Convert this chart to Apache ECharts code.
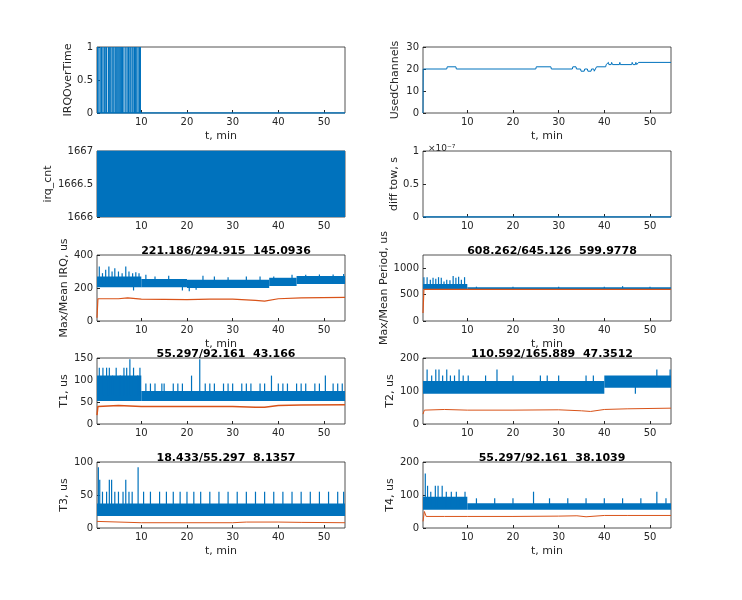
<!DOCTYPE html>
<html><head><meta charset="utf-8">
<script src="https://cdn.jsdelivr.net/npm/echarts@6/dist/echarts.min.js"></script>
<style>html,body{margin:0;padding:0;background:#fff}#c{width:742px;height:600px}</style>
</head><body><div id="c"></div>
<script>
// ---- data ----
const xTicks = [10, 20, 30, 40, 50];
const irqOverSpikes = [0.4,0.7,1.0,1.3,1.6,1.9,2.1,2.4,2.8,3.0,3.3,3.6,3.8,4.0,4.3,4.5,4.7,4.9,5.1,5.3,5.5,5.7,5.9,6.2,6.6,6.9,7.2,7.5,7.7,8.0,8.2,8.5,8.7,9.0,9.3,9.6,9.8];
const usedChannels = [[0.3,0],[0.35,20],[5.5,20],[5.6,21],[7.5,21],[7.6,20],[25,20],[25.1,21],[28.3,21],[28.4,20],[33,20],[33.1,21],[33.8,21],[33.9,20],[34.8,20],[34.9,19],[35.6,19],[35.7,20],[36.3,20],[36.4,19],[37.1,19],[37.2,20],[37.7,20],[37.8,19],[38.2,19],[38.3,21],[40.3,21],[40.4,22],[40.8,22],[40.9,23],[41.0,22],[41.5,22],[41.6,23],[41.8,22],[43.3,22],[43.4,23],[43.5,22],[46.0,22],[46.1,23],[46.3,22],[46.8,22],[46.9,23],[47.1,22],[47.4,22],[47.5,23],[54.6,23]];
const irqCntTop = 1667;
const diffTow = [[0.3,0],[54.6,0]];
// core bands: [t0, t1, lo, hi]
const irqCore = [[0.3,10,205,270],[10,20,205,255],[20,38,200,250],[38,44,212,262],[44,54.6,225,272]];
const irqSpikes = [[0.8,330],[1.5,290],[2.2,310],[2.9,330],[3.6,300],[4.2,320],[5.0,300],[5.8,290],[6.6,330],[7.3,300],[8.1,290],[8.8,295],[9.5,290],[11,280],[13,270],[16,275],[19,185],[20.5,180],[22,190],[23.5,275],[26,270],[29,265],[33,270],[36,270],[39,270],[43,280],[46,280],[49,282],[52,282],[54.3,285],[8.3,185]];
const irqMean = [[0.3,20],[0.5,135],[5,135],[7,140],[10,132],[20,130],[25,133],[30,133],[35,125],[37,120],[40,135],[45,140],[54.6,143]];
const perCore = [[0.3,10,600,700],[10,54.6,600,640]];
const perSpikes = [[0.5,830],[1.2,830],[1.9,780],[2.5,820],[3.1,800],[3.7,830],[4.3,820],[4.9,750],[5.5,780],[6.2,770],[6.9,850],[7.5,820],[8.1,840],[8.7,780],[9.4,830],[12,650],[20,650],[30,650],[40,650],[44,660],[50,650]];
const perMean = [[0.3,150],[0.5,600],[54.6,600]];
const t1Core = [[0.3,10,52,110],[10,54.6,52,75]];
const t1Spikes = [[0.8,128],[1.6,128],[2.4,128],[3.0,128],[3.7,110],[4.5,128],[5.4,110],[6.2,128],[6.8,128],[7.5,147],[8.3,128],[9.2,110],[9.7,128],[11,92],[12,92],[13,92],[14.5,92],[15,92],[17,92],[18,92],[19,92],[21,110],[22.8,147],[24,92],[25,92],[26,92],[28,92],[29,92],[30,92],[32,92],[33,92],[34,92],[36,92],[37,92],[38.5,110],[40,92],[41,92],[42,92],[44,92],[45,92],[46,92],[48,92],[49,92],[50.3,110],[52,92],[53,92],[54,92]];
const t1Mean = [[0.3,20],[0.5,40],[5,42],[10,40],[20,40],[30,40],[35,38],[37,38],[40,42],[45,43],[54.6,44]];
const t2Core = [[0.3,40,92,130],[40,54.6,110,147]];
const t2Spikes = [[1.2,165],[2.2,147],[3.1,165],[3.8,165],[4.6,147],[5.5,165],[6.3,147],[7.2,147],[8.2,165],[9.1,147],[10.2,147],[14,147],[16.5,165],[20,147],[26,147],[27.5,147],[30,147],[36,147],[37.6,147],[46.8,92],[51.5,165],[54.4,165]];
const t2Mean = [[0.3,30],[0.6,42],[5,44],[10,42],[20,42],[30,43],[35,40],[37,38],[40,44],[45,46],[54.6,48]];
const t3Core = [[0.3,54.6,18,37]];
const t3Spikes = [[0.6,92],[0.9,73],[1.5,55],[2.4,55],[3.0,73],[3.5,73],[4.2,55],[5.0,55],[6.0,55],[6.6,73],[7.3,55],[8.0,55],[9.3,92],[10.5,55],[12,55],[14,55],[15.5,55],[17,55],[18.5,55],[20,55],[21.5,55],[23,55],[25,55],[27,55],[29,55],[31,55],[33,55],[35,55],[37,55],[39,55],[41,55],[43,55],[45,55],[47,55],[49,55],[51,55],[53,55],[54.3,55]];
const t3Mean = [[0.3,10],[0.5,8],[10,8],[20,8],[30,8],[33,9],[40,9],[45,8.5],[54.6,8]];
const t4Core = [[0.3,10,55,95],[10,54.6,55,75]];
const t4Spikes = [[0.8,165],[1.3,128],[2.0,110],[3.0,128],[3.6,128],[4.5,128],[5.4,110],[6.5,110],[7.6,110],[8.5,90],[9.5,110],[12,90],[16,90],[20,90],[24.5,110],[28,90],[32,90],[36,90],[40,90],[44,90],[48,90],[51.5,110],[53.5,90]];
const t4Mean = [[0.3,20],[0.6,50],[1,35],[5,35],[10,35],[20,35],[30,36],[34,37],[36,34],[40,38],[45,38],[54.6,38]];

// ---- layout ----
const BLUE = '#0072BD', ORANGE = '#D95319', INK = '#262626';
const colL = 97, colR = 423, W = 248;
const rows = [47, 151, 255, 358, 462], H = 66;
const grids = [], xAxes = [], yAxes = [], series = [], titles = [];
function addPlot(idx, col, row, yMin, yMax, yInterval, yName, xName, opts) {
  opts = opts || {};
  const left = col ? colR : colL, top = rows[row];
  grids.push({left, top, width: W, height: H, show: true, borderColor: INK, borderWidth: 0.8, backgroundColor: '#fff'});
  xAxes.push({type: 'value', gridIndex: idx, min: 0.3, max: 54.6,
    name: xName || '', nameLocation: 'middle', nameGap: 18, nameTextStyle: {color: INK, fontSize: 11},
    axisLine: {show: false}, splitLine: {show: false},
    axisTick: {inside: true, length: 3, lineStyle: {color: INK}, customValues: xTicks},
    axisLabel: {color: INK, fontSize: 10, margin: 4, customValues: xTicks}});
  const y = {type: 'value', gridIndex: idx, min: yMin, max: yMax,
    name: yName, nameLocation: 'middle', nameGap: opts.nameGap || 24, nameTextStyle: {color: INK, fontSize: 11},
    axisLine: {show: false}, splitLine: {show: false},
    axisTick: {inside: true, length: 3, lineStyle: {color: INK}},
    axisLabel: {color: INK, fontSize: 10, margin: 4, formatter: opts.fmt || (v => String(v))}};
  if (opts.yTicks) { y.axisTick.customValues = opts.yTicks; y.axisLabel.customValues = opts.yTicks; }
  else y.interval = yInterval;
  yAxes.push(y);
  if (opts.title) titles.push({text: opts.title, left: left + W / 2, top: top - 14, textAlign: 'center',
    textStyle: {fontSize: 11, fontWeight: 'bold', color: '#000', fontFamily: 'DejaVu Sans'}});
}
function core(idx, segs) {
  series.push({type: 'custom', xAxisIndex: idx, yAxisIndex: idx, data: segs, clip: true,
    renderItem: (p, api) => {
      const a = api.coord([api.value(0), api.value(3)]), b = api.coord([api.value(1), api.value(2)]);
      return {type: 'rect', shape: {x: a[0], y: a[1], width: b[0] - a[0], height: b[1] - a[1]}, style: {fill: BLUE}};
    }});
}
function spikes(idx, pts, base) {
  series.push({type: 'custom', xAxisIndex: idx, yAxisIndex: idx, data: pts, clip: true,
    renderItem: (p, api) => {
      const a = api.coord([api.value(0), base]), b = api.coord([api.value(0), api.value(1)]);
      return {type: 'line', shape: {x1: a[0], y1: a[1], x2: b[0], y2: b[1]}, style: {stroke: BLUE, lineWidth: 1.2}};
    }});
}
function line(idx, pts, color, w) {
  series.push({type: 'line', xAxisIndex: idx, yAxisIndex: idx, data: pts, showSymbol: false, symbol: 'none',
    lineStyle: {color, width: w || 1}, animation: false});
}
// 0 IRQOverTime
addPlot(0, 0, 0, 0, 1, 0.5, 'IRQOverTime', 't, min', {nameGap: 22});
spikes(0, irqOverSpikes.map(t => [t, 1]), 0);
line(0, [[0.3, 0], [54.6, 0]], BLUE, 1.5);
// 1 UsedChannels
addPlot(1, 1, 0, 0, 30, 10, 'UsedChannels', 't, min', {nameGap: 22});
line(1, usedChannels, BLUE, 1);
// 2 irq_cnt
addPlot(2, 0, 1, 1666, 1667, 0.5, 'irq_cnt', '', {nameGap: 38});
series.push({type: 'line', xAxisIndex: 2, yAxisIndex: 2, data: [[0.3, irqCntTop], [54.6, irqCntTop]], symbol: 'none',
  lineStyle: {color: BLUE, width: 1}, areaStyle: {color: BLUE, opacity: 1, origin: 'start'}});
// 3 diff tow
addPlot(3, 1, 1, 0, 1e-7, 0.5e-7, 'diff tow, s', '', {nameGap: 22, fmt: v => String(+(v * 1e7).toFixed(1))});
line(3, diffTow, BLUE, 1.5);
titles.push({text: '×10⁻⁷', left: colR, top: rows[1] - 12, textStyle: {fontSize: 9, color: INK, fontWeight: 'normal'}});
// 4 Max/Mean IRQ
addPlot(4, 0, 2, 0, 400, 200, 'Max/Mean IRQ, us', 't, min', {nameGap: 24, title: '221.186/294.915  145.0936'});
core(4, irqCore); spikes(4, irqSpikes, 235); line(4, irqMean, ORANGE, 1.2);
// 5 Max/Mean Period
addPlot(5, 1, 2, 0, 1250, 500, 'Max/Mean Period, us', 't, min', {nameGap: 30, yTicks: [0, 500, 1000], title: '608.262/645.126  599.9778'});
core(5, perCore); spikes(5, perSpikes, 620); line(5, perMean, ORANGE, 1.2);
// 6 T1
addPlot(6, 0, 3, 0, 150, 50, 'T1, us', '', {nameGap: 24, title: '55.297/92.161  43.166'});
core(6, t1Core); spikes(6, t1Spikes, 65); line(6, t1Mean, ORANGE, 1.5);
// 7 T2
addPlot(7, 1, 3, 0, 200, 100, 'T2, us', '', {nameGap: 24, title: '110.592/165.889  47.3512'});
core(7, t2Core); spikes(7, t2Spikes, 115); line(7, t2Mean, ORANGE, 1);
// 8 T3
addPlot(8, 0, 4, 0, 100, 50, 'T3, us', 't, min', {nameGap: 24, title: '18.433/55.297  8.1357'});
core(8, t3Core); spikes(8, t3Spikes, 30); line(8, t3Mean, ORANGE, 1);
// 9 T4
addPlot(9, 1, 4, 0, 200, 100, 'T4, us', 't, min', {nameGap: 24, title: '55.297/92.161  38.1039'});
core(9, t4Core); spikes(9, t4Spikes, 65); line(9, t4Mean, ORANGE, 1);

const chart = echarts.init(document.getElementById('c'));
chart.setOption({animation: false, textStyle: {fontFamily: 'DejaVu Sans'},
  title: titles, grid: grids, xAxis: xAxes, yAxis: yAxes, series});
</script></body></html>
